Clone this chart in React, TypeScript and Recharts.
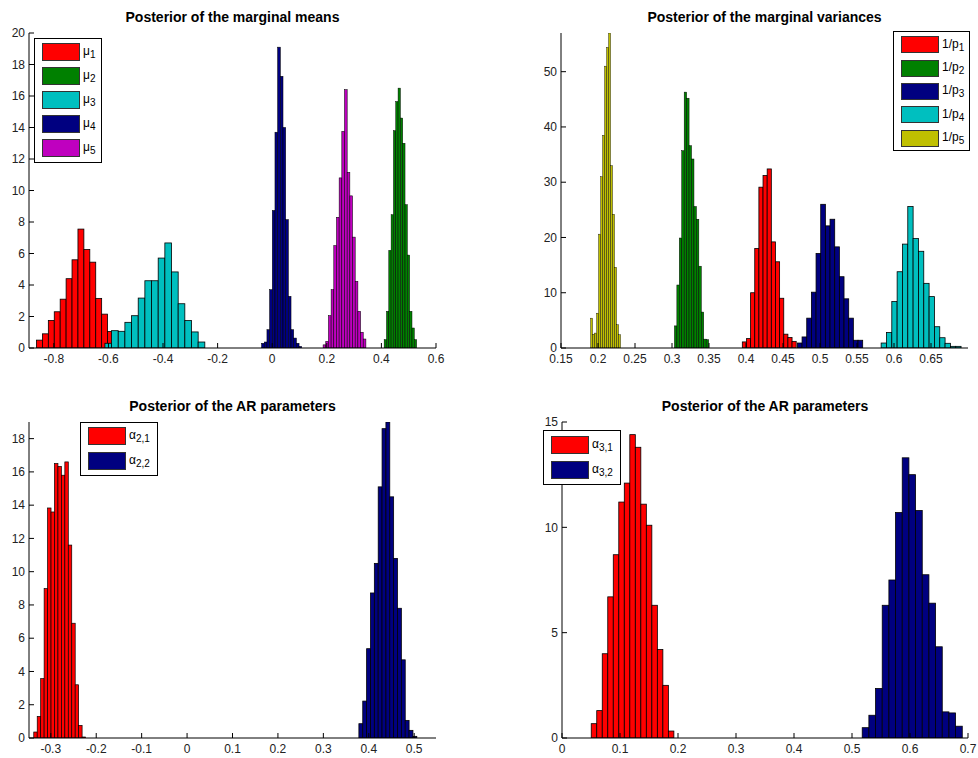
import React from 'react';
import { BarChart, Bar, XAxis, YAxis, Legend } from 'recharts';

// histogram densities: first bin centre, bin width, heights

// top left: posterior of the marginal means
const mu1Counts = [0.5, 0.9, 1.75, 2.3, 3.1, 4.4, 5.6, 7.55, 6.25, 5.45, 3.15, 2.15, 1.05];
const mu2Counts = [0.53, 2.33, 6.2, 8.46, 13.8, 15.65, 16.5, 14.6, 13.0, 9.1, 5.9, 2.33, 1.27, 0.53];
const mu3Counts = [0.3, 1.1, 1.06, 1.63, 2.05, 3.17, 4.27, 4.27, 5.71, 6.67, 4.83, 2.81, 1.74, 1.02, 0.38];
const mu4Counts = [0.3, 0.38, 1.16, 3.7, 8.73, 13.7, 19.1, 17.25, 14.0, 8.15, 3.28, 1.16, 0.63, 0.3, 0.1];
const mu5Counts = [0.2, 0.42, 2.05, 3.7, 6.5, 8.3, 10.8, 13.75, 16.4, 11.15, 9.66, 7.04, 4.23, 2.33, 1.0, 0.57];
const meansXTicks = [-0.8, -0.6, -0.4, -0.2, 0, 0.2, 0.4, 0.6];
const meansYTicks = [0, 2, 4, 6, 8, 10, 12, 14, 16, 18, 20];

// top right: posterior of the marginal variances
const p1Counts = [1.1, 1.7, 10.0, 18.0, 29.1, 31.2, 32.4, 19.2, 15.6, 9.0, 2.5, 1.9, 1.2];
const p2Counts = [4.0, 11.4, 19.9, 35.7, 46.3, 45.2, 36.6, 34.2, 25.6, 23.3, 14.8, 6.5, 1.6, 1.5];
const p3Counts = [0.9, 2.0, 5.4, 10.1, 17.1, 26.0, 22.1, 23.3, 18.3, 12.9, 8.9, 5.4, 1.4, 1.4];
const p4Counts = [0.9, 2.8, 8.4, 13.8, 18.8, 25.6, 19.8, 17.5, 11.7, 9.3, 3.85, 1.86, 0.85, 0.3, 0.3];
const p5Counts = [5.4, 2.5, 2.7, 6.3, 20.6, 31.0, 38.5, 51.0, 54.4, 58.0, 33.0, 24.2, 14.6, 4.2, 2.4];
const varsXTicks = [0.15, 0.2, 0.25, 0.3, 0.35, 0.4, 0.45, 0.5, 0.55, 0.6, 0.65];
const varsYTicks = [0, 10, 20, 30, 40, 50];

// bottom left: AR parameters, lag 2
const a21Counts = [0.36, 1.3, 3.57, 8.98, 13.83, 13.59, 16.5, 16.33, 15.8, 16.6, 11.6, 6.9, 3.2, 0.76, 0.06];
const a22Counts = [0.86, 2.22, 5.37, 8.72, 10.5, 15.1, 18.6, 19.5, 14.5, 10.8, 7.8, 4.7, 1.06, 0.46, 0.1];
const ar2XTicks = [-0.3, -0.2, -0.1, 0, 0.1, 0.2, 0.3, 0.4, 0.5];
const ar2YTicks = [0, 2, 4, 6, 8, 10, 12, 14, 16, 18];

// bottom right: AR parameters, lag 3
const a31Counts = [0.68, 1.3, 4.0, 6.7, 8.7, 11.2, 12.1, 14.4, 13.8, 11.1, 10.1, 6.3, 4.2, 2.5, 0.33];
const a32Counts = [0.49, 1.08, 2.35, 6.3, 7.5, 10.7, 13.3, 12.5, 10.8, 7.75, 6.4, 4.33, 1.24, 1.19, 0.56];
const ar3XTicks = [0, 0.1, 0.2, 0.3, 0.4, 0.5, 0.6, 0.7];
const ar3YTicks = [0, 5, 10, 15];

const RED = '#FF0000';
const GREEN = '#008000';
const CYAN = '#00BFBF';
const NAVY = '#000080';
const MAGENTA = '#BF00BF';
const OLIVE = '#BFBF00';

const FONT = '"Liberation Sans", Arial, sans-serif';
const Y_AXIS_W = 30;
const X_AXIS_H = 25;
const M_TOP = 12;
const M_RIGHT = 15;

type Series = {
  key: string;
  sym: string;
  sub: string;
  color: string;
  start: number;
  bin: number;
  counts: number[];
};

type LegendBox = { left: number; top: number; width: number; pitch: number; sw: number; padTop: number; padBottom: number };

type Panel = {
  title: string;
  titleTop: number;
  left: number;
  top: number;
  w: number;
  h: number;
  xDomain: [number, number];
  xTicks: number[];
  yDomain: [number, number];
  yTicks: number[];
  series: Series[];
  legend: LegendBox;
};

const panels: Panel[] = [
  {
    title: 'Posterior of the marginal means',
    titleTop: 9,
    left: 29, top: 33, w: 407, h: 315,
    xDomain: [-0.891, 0.6], xTicks: meansXTicks,
    yDomain: [0, 20], yTicks: meansYTicks,
    series: [
      { key: 'mu1', sym: 'μ', sub: '1', color: RED, start: -0.854, bin: 0.0217, counts: mu1Counts },
      { key: 'mu2', sym: 'μ', sub: '2', color: GREEN, start: 0.413, bin: 0.0085, counts: mu2Counts },
      { key: 'mu3', sym: 'μ', sub: '3', color: CYAN, start: -0.602, bin: 0.0244, counts: mu3Counts },
      { key: 'mu4', sym: 'μ', sub: '4', color: NAVY, start: -0.0353, bin: 0.0098, counts: mu4Counts },
      { key: 'mu5', sym: 'μ', sub: '5', color: MAGENTA, start: 0.19, bin: 0.0098, counts: mu5Counts },
    ],
    legend: { left: 34, top: 38, width: 68, pitch: 24, sw: 18, padTop: 1, padBottom: 2 },
  },
  {
    title: 'Posterior of the marginal variances',
    titleTop: 9,
    left: 561, top: 33, w: 407, h: 315,
    xDomain: [0.15, 0.7], xTicks: varsXTicks,
    yDomain: [0, 57], yTicks: varsYTicks,
    series: [
      { key: 'p1', sym: '1/p', sub: '1', color: RED, start: 0.3985, bin: 0.0056, counts: p1Counts },
      { key: 'p2', sym: '1/p', sub: '2', color: GREEN, start: 0.3056, bin: 0.0033, counts: p2Counts },
      { key: 'p3', sym: '1/p', sub: '3', color: NAVY, start: 0.4733, bin: 0.0063, counts: p3Counts },
      { key: 'p4', sym: '1/p', sub: '4', color: CYAN, start: 0.5869, bin: 0.0072, counts: p4Counts },
      { key: 'p5', sym: '1/p', sub: '5', color: OLIVE, start: 0.192, bin: 0.0027, counts: p5Counts },
    ],
    legend: { left: 893, top: 31, width: 77, pitch: 23.4, sw: 17, padTop: 1, padBottom: 0 },
  },
  {
    title: 'Posterior of the AR parameters',
    titleTop: 398,
    left: 29, top: 422, w: 407, h: 316,
    xDomain: [-0.348, 0.548], xTicks: ar2XTicks,
    yDomain: [0, 19], yTicks: ar2YTicks,
    series: [
      { key: 'a21', sym: 'α', sub: '2,1', color: RED, start: -0.3332, bin: 0.0076, counts: a21Counts },
      { key: 'a22', sym: 'α', sub: '2,2', color: NAVY, start: 0.383, bin: 0.0085, counts: a22Counts },
    ],
    legend: { left: 80, top: 422, width: 78, pitch: 24.7, sw: 18, padTop: 1, padBottom: 2 },
  },
  {
    title: 'Posterior of the AR parameters',
    titleTop: 398,
    left: 562, top: 422, w: 406, h: 316,
    xDomain: [0, 0.7], xTicks: ar3XTicks,
    yDomain: [0, 15], yTicks: ar3YTicks,
    series: [
      { key: 'a31', sym: 'α', sub: '3,1', color: RED, start: 0.0556, bin: 0.0095, counts: a31Counts },
      { key: 'a32', sym: 'α', sub: '3,2', color: NAVY, start: 0.5238, bin: 0.0115, counts: a32Counts },
    ],
    legend: { left: 543, top: 430, width: 78, pitch: 25, sw: 18, padTop: 1, padBottom: 2 },
  },
];

// bar centred on the scaled bin centre, full bin width like MATLAB's hist
const histShape = (color: string, widthPx: number) => (props: any) => {
  const { x, y, width, height } = props;
  if (x == null || y == null || !height || Math.abs(height) < 0.05) return <g />;
  const cx = x + width / 2;
  const top = height < 0 ? y + height : y;
  return (
    <rect
      x={cx - widthPx / 2}
      y={top}
      width={widthPx}
      height={Math.abs(height)}
      fill={color}
      stroke="#000"
      strokeWidth={Math.min(0.8, widthPx * 0.2)}
    />
  );
};

const legendContent = (p: Panel) => () => (
  <div
    style={{
      boxSizing: 'border-box',
      width: p.legend.width,
      border: '1px solid #000',
      background: '#fff',
      paddingTop: p.legend.padTop,
      paddingBottom: p.legend.padBottom,
      fontFamily: FONT,
      fontSize: 12,
      color: '#000',
    }}
  >
    {p.series.map((s) => (
      <div key={s.key} style={{ display: 'flex', alignItems: 'center', height: p.legend.pitch }}>
        <span
          style={{
            display: 'inline-block',
            boxSizing: 'border-box',
            marginLeft: 7,
            width: 38,
            height: p.legend.sw,
            background: s.color,
            border: '1px solid #333',
          }}
        />
        <span style={{ marginLeft: 3, whiteSpace: 'nowrap' }}>
          {s.sym}
          <sub style={{ fontSize: 10, verticalAlign: -3 }}>{s.sub}</sub>
        </span>
      </div>
    ))}
  </div>
);

const axisLine = { stroke: '#000', strokeWidth: 1 };
const tickLine = { stroke: '#000', strokeWidth: 1 };
const tickText = { fill: '#222', fontSize: 12, fontFamily: FONT };

function HistPanel({ p }: { p: Panel }) {
  const pxPerUnit = p.w / (p.xDomain[1] - p.xDomain[0]);
  const rows: any[] = [];
  p.series.forEach((s) => {
    s.counts.forEach((c, i) => {
      rows.push({ x: +(s.start + i * s.bin).toFixed(5), [s.key]: c });
    });
  });
  rows.sort((a, b) => a.x - b.x);

  const chartLeft = p.left - Y_AXIS_W;
  const chartTop = p.top - M_TOP;

  return (
    <>
      <div
        style={{
          position: 'absolute',
          left: p.left,
          top: p.titleTop,
          width: p.w,
          textAlign: 'center',
          fontFamily: FONT,
          fontWeight: 'bold',
          fontSize: 14,
          lineHeight: '16px',
          color: '#000',
        }}
      >
        {p.title}
      </div>
      <div style={{ position: 'absolute', left: chartLeft, top: chartTop }}>
        <BarChart
          width={Y_AXIS_W + p.w + M_RIGHT}
          height={M_TOP + p.h + X_AXIS_H}
          data={rows}
          barSize={1}
          margin={{ top: M_TOP, right: M_RIGHT, bottom: 0, left: 0 }}
        >
          <XAxis
            dataKey="x"
            type="number"
            domain={p.xDomain}
            ticks={p.xTicks}
            allowDataOverflow
            interval={0}
            height={X_AXIS_H}
            tickSize={-5}
            tickMargin={11}
            axisLine={axisLine}
            tickLine={tickLine}
            tick={tickText}
          />
          <XAxis
            xAxisId="top"
            orientation="top"
            type="number"
            domain={p.xDomain}
            ticks={p.xTicks}
            allowDataOverflow
            interval={0}
            height={0}
            tickSize={-5}
            axisLine={axisLine}
            tickLine={tickLine}
            tick={false}
          />
          <YAxis
            type="number"
            domain={p.yDomain}
            ticks={p.yTicks}
            allowDataOverflow
            interval={0}
            width={Y_AXIS_W}
            tickSize={-5}
            tickMargin={9}
            axisLine={axisLine}
            tickLine={tickLine}
            tick={tickText}
          />
          <YAxis
            yAxisId="right"
            orientation="right"
            type="number"
            domain={p.yDomain}
            ticks={p.yTicks}
            allowDataOverflow
            interval={0}
            width={0}
            tickSize={-5}
            axisLine={axisLine}
            tickLine={tickLine}
            tick={false}
          />
          {p.series.map((s) => (
            <Bar
              key={s.key}
              dataKey={s.key}
              name={s.sym + s.sub}
              stackId="hist"
              fill={s.color}
              isAnimationActive={false}
              shape={histShape(s.color, s.bin * pxPerUnit)}
            />
          ))}
          <Legend
            layout="vertical"
            align="center"
            verticalAlign="middle"
            content={legendContent(p)}
            wrapperStyle={{
              left: p.legend.left - chartLeft,
              top: p.legend.top - chartTop,
              width: p.legend.width,
              height: 'auto',
            }}
          />
        </BarChart>
      </div>
    </>
  );
}

export default function App() {
  return (
    <div
      style={{
        position: 'absolute',
        left: 0,
        top: 0,
        width: 978,
        height: 758,
        background: '#fff',
        overflow: 'hidden',
      }}
    >
      {panels.map((p, i) => (
        <HistPanel key={i} p={p} />
      ))}
    </div>
  );
}
